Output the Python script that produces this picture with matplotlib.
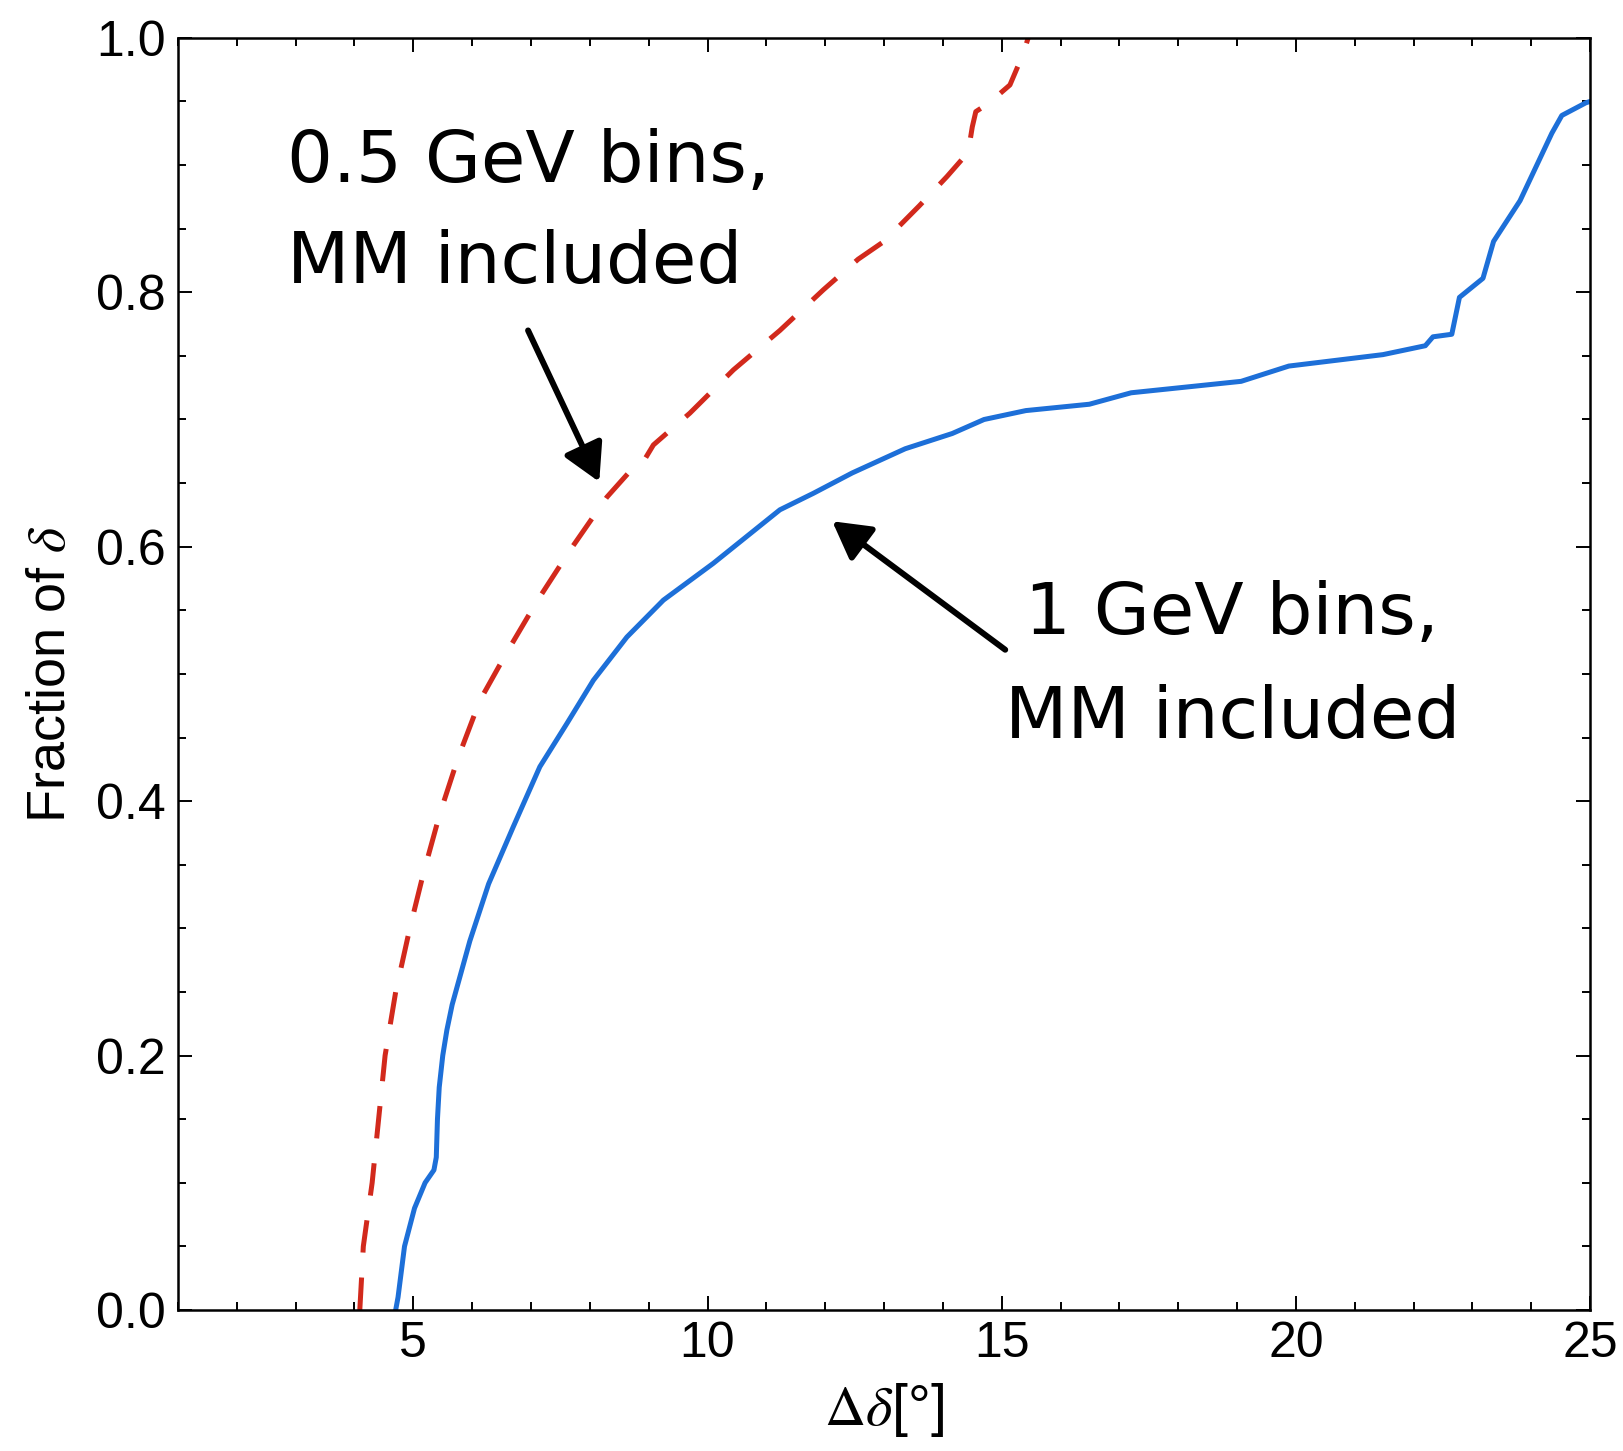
import numpy as np
import matplotlib
matplotlib.use('Agg')
import matplotlib.pyplot as plt
from matplotlib.ticker import MultipleLocator, FormatStrFormatter

# cumulative fraction vs. angular resolution, two binnings
dd_half = [4.09, 4.15, 4.30, 4.41, 4.52, 4.70, 4.94, 5.17, 5.45, 5.76, 6.13, 6.59,
           7.10, 7.66, 8.29, 8.85, 8.95, 9.08, 9.70, 10.44, 11.23, 11.97, 12.56,
           13.00, 13.60, 14.07, 14.43, 14.50, 14.56, 14.79, 15.14, 15.37, 15.45]
frac_half = [0.000, 0.050, 0.100, 0.150, 0.200, 0.250, 0.300, 0.343, 0.390, 0.434,
             0.479, 0.517, 0.557, 0.597, 0.639, 0.668, 0.670, 0.680, 0.705, 0.739,
             0.770, 0.802, 0.826, 0.840, 0.868, 0.891, 0.910, 0.930, 0.942, 0.949,
             0.963, 0.988, 1.000]

dd_one = [4.70, 4.74, 4.85, 5.02, 5.20, 5.35, 5.39, 5.41, 5.44, 5.50, 5.57, 5.66,
          5.78, 5.96, 6.28, 6.70, 7.15, 7.61, 8.06, 8.63, 9.25, 10.10, 11.23,
          11.80, 12.46, 13.36, 14.16, 14.70, 15.41, 16.49, 17.20, 19.07, 19.88,
          21.48, 22.20, 22.33, 22.65, 22.78, 23.18, 23.36, 23.81, 24.35, 24.52,
          24.93, 25.00]
frac_one = [0.000, 0.010, 0.050, 0.080, 0.100, 0.110, 0.120, 0.150, 0.175, 0.200,
            0.220, 0.240, 0.260, 0.290, 0.335, 0.380, 0.427, 0.461, 0.495, 0.529,
            0.558, 0.587, 0.629, 0.642, 0.658, 0.677, 0.689, 0.700, 0.707, 0.712,
            0.721, 0.730, 0.742, 0.751, 0.758, 0.765, 0.767, 0.796, 0.811, 0.840,
            0.872, 0.925, 0.939, 0.949, 0.950]

note_half = ['0.5 GeV bins,', 'MM included']
note_one = ['1 GeV bins,', 'MM included']

plt.rcParams['font.family'] = ['Liberation Sans', 'DejaVu Sans']
plt.rcParams['mathtext.fontset'] = 'stix'

fig = plt.figure(figsize=(16.24, 14.51), dpi=100)
ax = fig.add_axes([0.1096, 0.0972, 0.8695, 0.8767])

ax.plot(dd_half, frac_half, color='#d2291c', lw=3.6, ls=(0, (6.5, 5)),
        dash_capstyle='butt', dash_joinstyle='round')
ax.plot(dd_one, frac_one, color='#1d6fd8', lw=3.6, solid_joinstyle='round')

ax.set_xlim(1, 25)
ax.set_ylim(0, 1)
ax.xaxis.set_major_locator(MultipleLocator(5))
ax.xaxis.set_minor_locator(MultipleLocator(1))
ax.yaxis.set_major_locator(MultipleLocator(0.2))
ax.yaxis.set_minor_locator(MultipleLocator(0.05))
ax.yaxis.set_major_formatter(FormatStrFormatter('%.1f'))
ax.tick_params(which='both', direction='in', top=True, right=True, width=1.4,
               labelsize=36, colors='black')
ax.tick_params(which='major', length=10)
ax.tick_params(which='minor', length=5.5)
ax.tick_params(axis='y', pad=9)
ax.tick_params(axis='x', pad=8)
for s in ax.spines.values():
    s.set_linewidth(1.8)

ax.set_xlabel(r'$\Delta\delta$[°]', fontsize=41, labelpad=10)
ax.set_ylabel(r'Fraction of $\delta$', fontsize=39, labelpad=14)

hand = dict(fontsize=52, family='DejaVu Sans', color='black', va='baseline')
ax.text(2.85, 0.887, note_half[0], ha='left', **hand)
ax.text(2.85, 0.807, note_half[1], ha='left', **hand)
ax.text(18.92, 0.531, note_one[0], ha='center', **hand)
ax.text(18.92, 0.450, note_one[1], ha='center', **hand)

arrow = dict(arrowstyle='-|>,head_length=0.75,head_width=0.42', color='black',
             lw=4.3, mutation_scale=30, shrinkA=0, shrinkB=0)
ax.annotate('', xy=(8.16, 0.651), xytext=(6.95, 0.770), arrowprops=arrow)
ax.annotate('', xy=(12.12, 0.620), xytext=(15.06, 0.519), arrowprops=arrow)

fig.savefig('out.png', dpi=100, facecolor='white')
